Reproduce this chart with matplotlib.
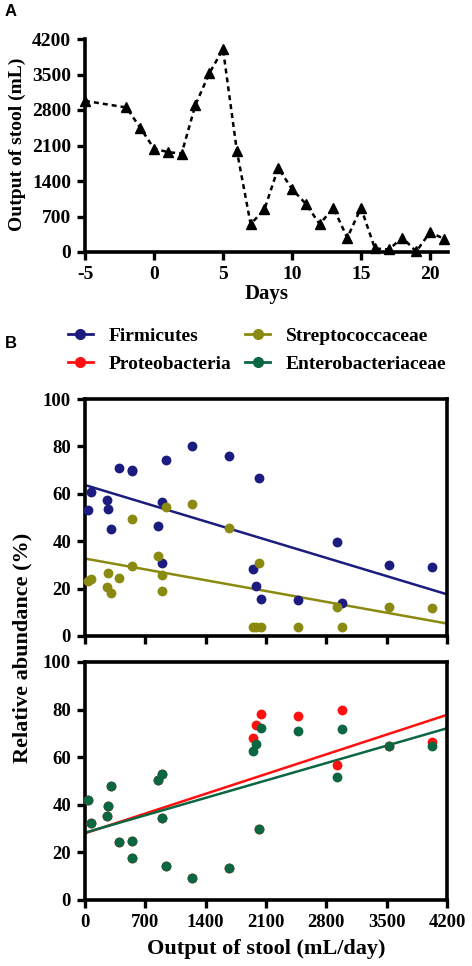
import numpy as np
import matplotlib
matplotlib.use("Agg")
from matplotlib import pyplot as plt
from matplotlib.lines import Line2D

# ---- panel A: daily stool output ----
days = [-5, -2, -1, 0, 1, 2, 3, 4, 5, 6, 7, 8, 9, 10, 11, 12, 13, 14, 15, 16, 17, 18, 19, 20, 21]
stool_ml = [2980, 2850, 2450, 2040, 1970, 1940, 2900, 3520, 4000, 2000, 550, 840, 1660, 1240,
            950, 550, 870, 280, 870, 70, 50, 280, 10, 390, 260]

# ---- panel B: relative abundance vs stool output ----
stool_b = [38, 70, 259, 271, 298, 394, 545, 545, 843, 893, 893, 943, 1245, 1667,
           1953, 1984, 2015, 2046, 2468, 2920, 2986, 3527, 4022]
firmicutes = [53.3, 60.6, 57.3, 53.6, 45.0, 71.0, 70.0, 69.6, 46.4, 56.4, 30.9, 74.4, 80.3, 76.1,
              28.1, 21.2, 66.5, 15.6, 15.3, 39.5, 14.1, 30.1, 29.3]
streptococcaceae = [23.2, 23.9, 20.8, 26.6, 18.1, 24.3, 49.5, 29.7, 33.9, 25.6, 19.0, 54.4, 55.7, 45.4,
                    4.0, 4.0, 30.9, 4.0, 4.0, 12.4, 3.7, 12.4, 11.7]
enterobacteriaceae = [41.9, 32.5, 35.5, 39.3, 48.0, 24.3, 24.8, 17.7, 50.6, 53.0, 34.6, 14.3, 9.1, 13.5,
                      62.8, 65.5, 29.9, 72.1, 71.2, 51.6, 71.8, 64.8, 64.8]
proteobacteria = [41.9, 32.5, 35.5, 39.3, 48.0, 24.3, 24.8, 17.7, 50.6, 53.0, 34.6, 14.3, 9.1, 13.5,
                  68.0, 73.5, 29.9, 78.1, 77.4, 56.7, 79.8, 64.8, 66.5]

NAVY = '#1c1c80'
OLIVE = '#8a8a10'
RED = '#ff1010'
GREEN = '#0b6642'

SERIF = ['Liberation Serif', 'DejaVu Serif']
plt.rcParams['font.family'] = SERIF
plt.rcParams['font.weight'] = 'bold'
plt.rcParams['axes.unicode_minus'] = False

W, H = 472, 966


def frac(left, top, right, bottom):
    return [left / W, 1 - bottom / H, (right - left) / W, (bottom - top) / H]


def style_ticks(ax, size):
    ax.tick_params(direction='out', length=6, width=2.4, labelsize=size, pad=4)
    for lab in ax.get_xticklabels() + ax.get_yticklabels():
        lab.set_fontweight('bold')


def fit_line(ax, x, y, color):
    slope, icpt = np.polyfit(x, y, 1)
    xs = np.array([0, 4200])
    ax.plot(xs, icpt + slope * xs, color=color, lw=1.8, zorder=2)


fig = plt.figure(figsize=(W / 100, H / 100), dpi=100)

# panel A
axA = fig.add_axes(frac(85, 39, 448, 252))
axA.plot(days, stool_ml, color='black', ls=(0, (2.0, 1.6)), lw=1.8,
         marker='^', markersize=7.5, clip_on=False, zorder=3)
axA.set_xlim(-5, 21.3)
axA.set_ylim(0, 4200)
axA.set_xticks([-5, 0, 5, 10, 15, 20])
axA.set_yticks(np.arange(0, 4201, 700))
for s in ['top', 'right']:
    axA.spines[s].set_visible(False)
for s in ['left', 'bottom']:
    axA.spines[s].set_linewidth(2.6)
style_ticks(axA, 14)
axA.set_xlabel('Days', fontsize=15, fontweight='bold')
axA.xaxis.set_label_coords(0.5, -0.15)
fig.text(17 / W, 1 - 144 / H, 'Output of stool (mL)', rotation=90, ha='center', va='center',
         fontsize=14, fontweight='bold')

# panel B top
axB1 = fig.add_axes(frac(85, 399, 447, 636))
fit_line(axB1, stool_b, firmicutes, NAVY)
fit_line(axB1, stool_b, streptococcaceae, OLIVE)
axB1.scatter(stool_b, firmicutes, s=50, color=NAVY, lw=0, zorder=3, clip_on=False)
axB1.scatter(stool_b, streptococcaceae, s=50, color=OLIVE, lw=0, zorder=4, clip_on=False)

# panel B bottom
axB2 = fig.add_axes(frac(85, 662, 447, 900))
fit_line(axB2, stool_b, proteobacteria, RED)
fit_line(axB2, stool_b, enterobacteriaceae, GREEN)
axB2.scatter(stool_b, proteobacteria, s=50, color=RED, lw=0, zorder=3, clip_on=False)
axB2.scatter(stool_b, enterobacteriaceae, s=50, color=GREEN, lw=0, zorder=4, clip_on=False)

for ax in (axB1, axB2):
    ax.set_xlim(0, 4200)
    ax.set_ylim(0, 100)
    ax.set_xticks(np.arange(0, 4201, 700))
    ax.set_yticks(np.arange(0, 101, 20))
    for s in ax.spines.values():
        s.set_linewidth(2.6)
    style_ticks(ax, 13.5)
axB1.tick_params(labelbottom=False)
axB2.set_xlabel('Output of stool (mL/day)', fontsize=16, fontweight='bold')
axB2.xaxis.set_label_coords(0.5, -0.165)

fig.text(22 / W, 1 - 648 / H, 'Relative abundance (%)', rotation=90, ha='center', va='center',
         fontsize=16, fontweight='bold')

handles = [Line2D([], [], color=c, lw=2, marker='o', markersize=7) for c in (NAVY, RED, OLIVE, GREEN)]
labels = ['Firmicutes', 'Proteobacteria', 'Streptococcaceae', 'Enterobacteriaceae']
fig.legend(handles, labels, ncol=2, loc='center', bbox_to_anchor=(257 / W, 1 - 350 / H),
           frameon=False, handlelength=1.3, handletextpad=0.8, columnspacing=0.7,
           labelspacing=0.55, borderpad=0, borderaxespad=0, prop={'weight': 'bold', 'size': 14})

fig.text(5 / W, 1 - 11 / H, 'A', fontsize=12, fontweight='bold', family=['Liberation Sans'],
         ha='left', va='center')
fig.text(5 / W, 1 - 343 / H, 'B', fontsize=12, fontweight='bold', family=['Liberation Sans'],
         ha='left', va='center')

fig.savefig('out.png', dpi=100)
